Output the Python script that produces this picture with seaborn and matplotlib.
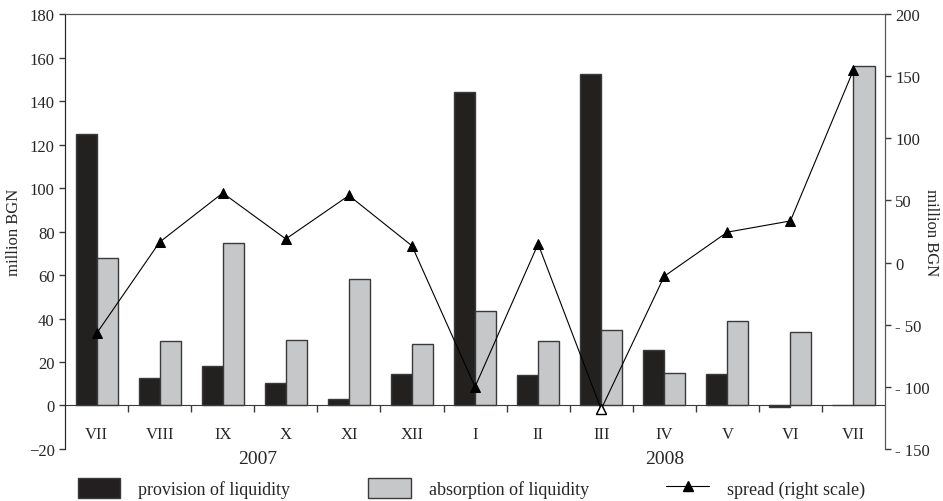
import numpy as np
import pandas as pd
import matplotlib.pyplot as plt
import seaborn as sns
from matplotlib.patches import Patch
from matplotlib.lines import Line2D
from matplotlib.ticker import FuncFormatter, FixedLocator

months = ["VII", "VIII", "IX", "X", "XI", "XII", "I", "II", "III", "IV", "V", "VI", "VII"]
years = ["2007"] * 6 + ["2008"] * 7
provision = [125, 12.5, 18, 10.5, 3, 14.5, 144, 14, 152.5, 25.5, 14.5, -0.5, 0]
absorption = [68, 29.5, 74.5, 30, 58, 28.5, 43.5, 29.5, 34.5, 15, 39, 34, 156]
spread = [-57, 16.5, 56, 19, 54, 13.5, -100, 15, -118, -11, 24.5, 33.5, 155]
open_point = 8  # III 2008 drawn with a hollow marker

keys = [f"{y}-{m}" for y, m in zip(years, months)]
df = pd.DataFrame({
    "key": keys * 2,
    "value": provision + absorption,
    "series": ["provision of liquidity"] * 13 + ["absorption of liquidity"] * 13,
})

sns.set_style("white")
plt.rcParams['font.family'] = ['Liberation Serif', 'DejaVu Serif']

black = "#231f20"
grey = "#c6c7c8"
edge = "#3a3a3a"

fig = plt.figure(figsize=(9.43, 5.02), dpi=100)
ax = fig.add_axes([0.069, 0.1036, 0.8695, 0.8664])

sns.barplot(data=df, x="key", y="value", hue="series", order=keys,
            palette=[black, grey], width=0.667, edgecolor=edge, linewidth=1,
            legend=False, ax=ax)

ax.set_ylim(-20, 180)
ax.set_xlim(-0.5, 12.5)
ax.set_yticks(np.arange(-20, 181, 20))
ax.set_ylabel("million BGN", fontsize=12, labelpad=5)
ax.set_xlabel("")
ax.spines['bottom'].set_position(('data', 0))
ax.spines['bottom'].set_color(edge)
for s in ['left', 'top', 'right']:
    ax.spines[s].set_color("#555555")
ax.set_xticks(range(13))
ax.set_xticklabels(months)
ax.xaxis.set_minor_locator(FixedLocator(np.arange(0.5, 12, 1)))
ax.tick_params(axis='x', which='major', length=0, pad=15, labelsize=12, bottom=True)
ax.tick_params(axis='x', which='minor', length=5, width=1, color=edge,
               direction='out', bottom=True)
ax.tick_params(axis='y', length=4, width=1, color=edge, labelsize=12, left=True)

ax2 = ax.twinx()
pos = np.arange(13)
sns.lineplot(x=pos, y=spread, marker='^', markersize=7, color='black',
             linewidth=0.8, markeredgecolor='black', ax=ax2)
ax2.plot(pos[open_point], spread[open_point], marker='^', markersize=7,
         markerfacecolor='white', markeredgecolor='black', linestyle='none')
ax2.set_ylim(-150, 200)
ax2.set_yticks(np.arange(-150, 201, 50))
ax2.yaxis.set_major_formatter(FuncFormatter(lambda v, p: f"- {abs(int(v))}" if v < 0 else f"{int(v)}"))
ax2.tick_params(axis='y', length=4, width=1, color=edge, labelsize=12, right=True)
ax2.set_ylabel("million BGN", fontsize=12, rotation=270, labelpad=6)
ax2.spines['bottom'].set_visible(False)
ax2.spines['right'].set_color("#555555")
ax2.spines['top'].set_color("#555555")

fig.text(0.069 + 0.8695 * 3.05 / 13, 0.085, "2007", ha='center', va='center', fontsize=14)
fig.text(0.069 + 0.8695 * 9.5 / 13, 0.085, "2008", ha='center', va='center', fontsize=14)

handles = [
    Patch(facecolor=black, edgecolor=edge, label="provision of liquidity"),
    Patch(facecolor=grey, edgecolor=edge, label="absorption of liquidity"),
    Line2D([0], [0], color='black', marker='^', markersize=7, linewidth=0.8, label="spread (right scale)"),
]
fig.legend(handles=handles, loc='center', bbox_to_anchor=(0.5, 0.025), ncol=3,
           frameon=False, fontsize=13, handlelength=2.35, handleheight=1.3,
           handletextpad=1.0, columnspacing=4.3)

plt.savefig("out.png", dpi=100)
